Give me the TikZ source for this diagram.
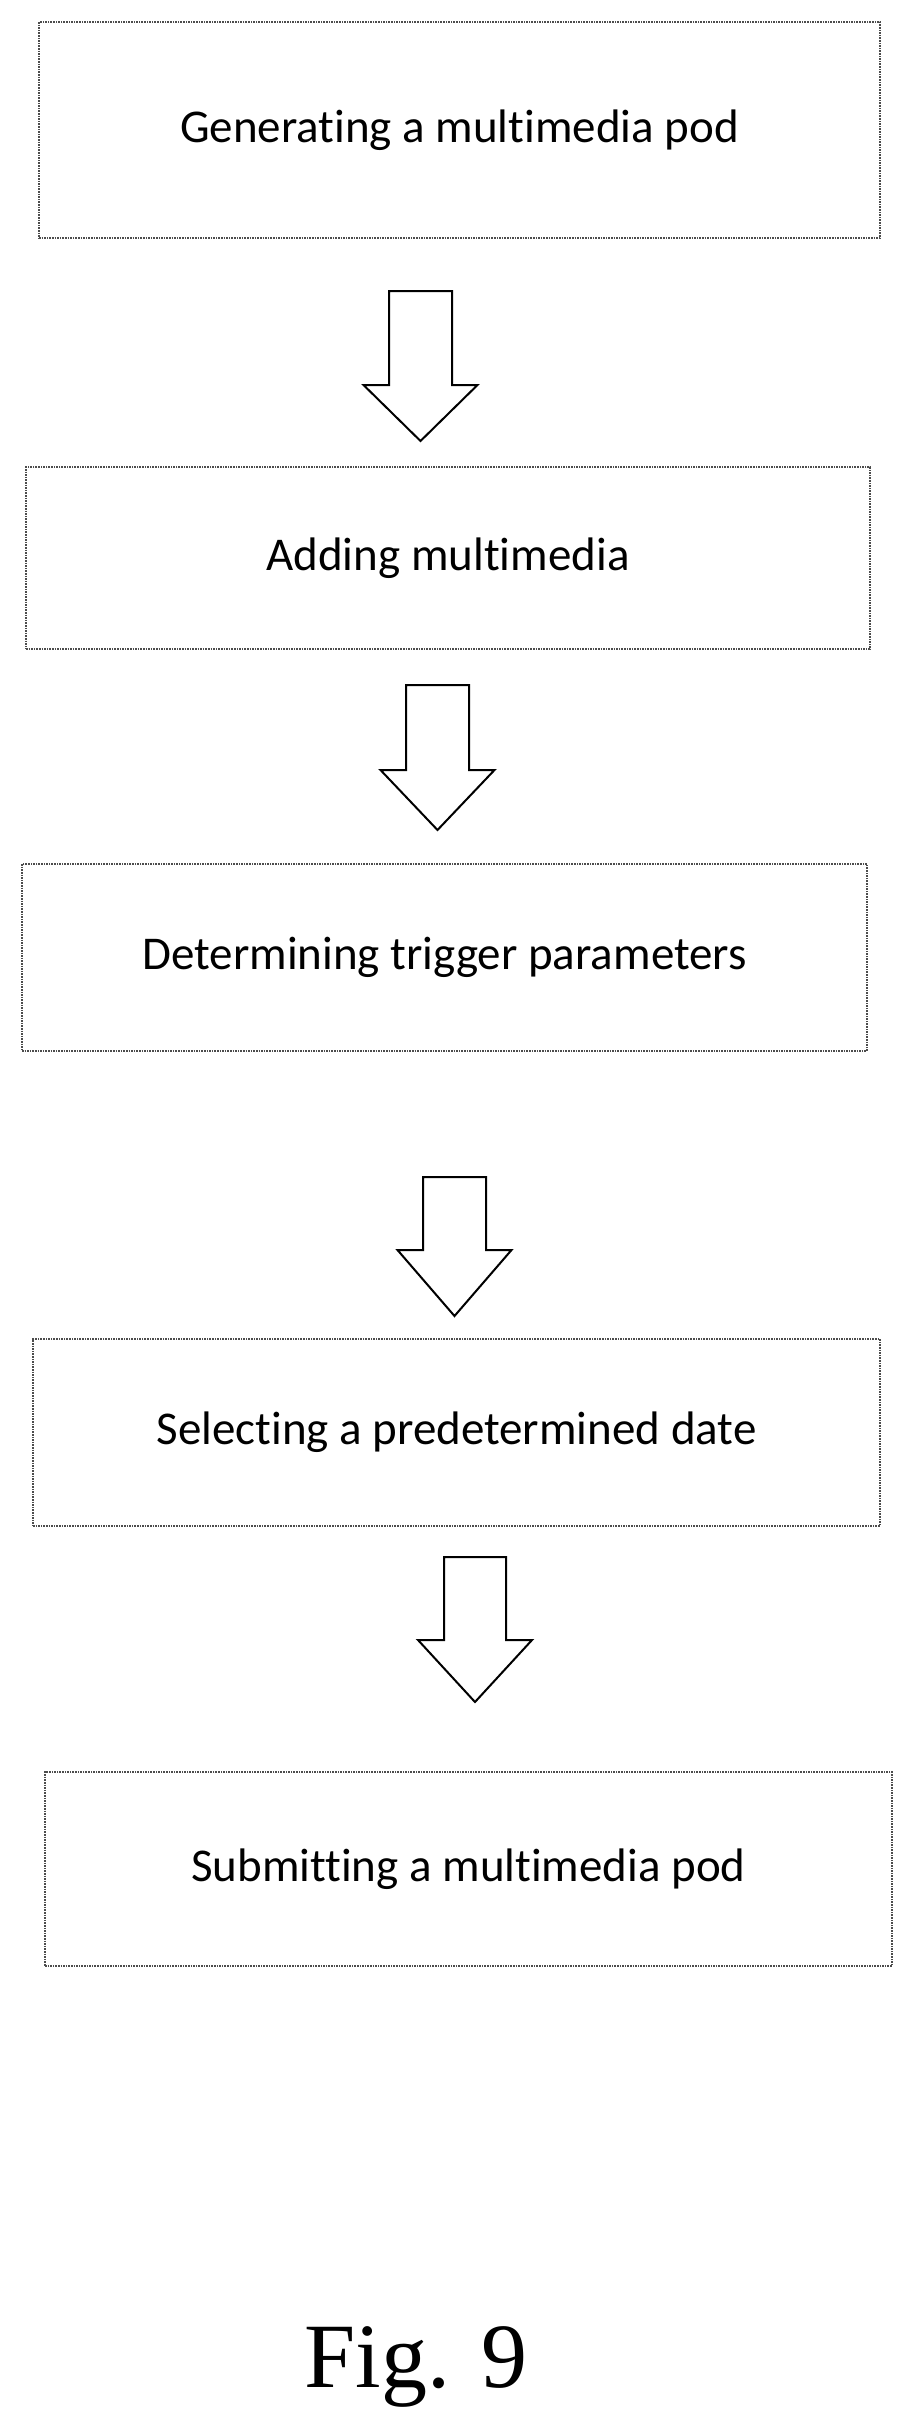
\documentclass[tikz,border=0pt]{standalone}
\usepackage{fontspec}
\setmainfont[Ligatures={NoCommon}]{Carlito}
\newfontfamily\figfont{Liberation Serif}
\begin{document}
\begin{tikzpicture}[x=1pt,y=-1pt,
  box/.style={draw=black!70,densely dotted,line width=1.6pt,inner sep=0pt,align=center,font=\fontsize{47}{56}\selectfont},
  arr/.style={draw=black,line width=2pt,fill=white,line join=miter}]
\useasboundingbox (0,0) rectangle (905,2420);
\newcommand\mybox[6]{\node[box,minimum width=#4-#2,minimum height=#5-#3] (#1) at ({(#2+#4)/2},{(#3+#5)/2}) {#6};}
\mybox{b1}{39}{22}{880}{238}{Generating a multimedia pod}
\mybox{b2}{26}{467}{870}{649}{Adding multimedia}
\mybox{b3}{22}{864}{867}{1051}{Determining trigger parameters}
\mybox{b4}{33}{1339}{880}{1526}{Selecting a predetermined date}
\mybox{b5}{45}{1772}{892}{1966}{Submitting a multimedia pod}
\newcommand\myarrow[6]{\draw[arr] (#1,#4) -- (#2,#4) -- (#2,#5) -- ({(#1+#2)/2+57},#5) -- ({(#1+#2)/2},#6) -- ({(#1+#2)/2-57},#5) -- (#1,#5) -- cycle;}
\myarrow{389}{452}{}{291}{385}{441}
\myarrow{406}{469}{}{685}{770}{830}
\myarrow{423}{486}{}{1177}{1250}{1316}
\myarrow{444}{506}{}{1557}{1640}{1702}
\node[font=\figfont\fontsize{92}{100}\selectfont] (fig) at (416,2367) {Fig. 9};
\end{tikzpicture}
\end{document}
